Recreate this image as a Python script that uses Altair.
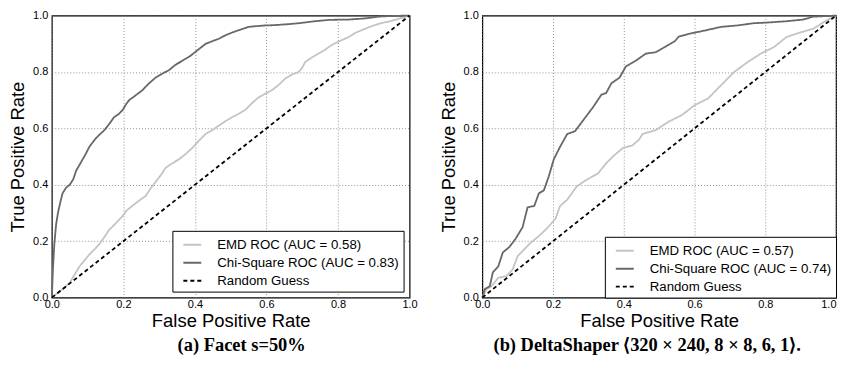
import altair as alt
import pandas as pd

series_names = ["EMD ROC", "Chi-Square ROC", "Random Guess"]

# Panel (a) Facet
a_chi_fpr = [0, 0.003, 0.007, 0.012, 0.017, 0.024, 0.03, 0.04, 0.05, 0.06, 0.068, 0.077, 0.086, 0.095,
             0.105, 0.114, 0.123, 0.135, 0.147, 0.16, 0.174, 0.186, 0.198, 0.207, 0.216, 0.235, 0.253,
             0.27, 0.29, 0.31, 0.327, 0.345, 0.365, 0.385, 0.40, 0.415, 0.43, 0.45, 0.467, 0.485, 0.504,
             0.527, 0.55, 0.575, 0.596, 0.62, 0.643, 0.665, 0.69, 0.71, 0.735, 0.76, 0.78, 0.83, 0.875,
             0.92, 0.96, 1.0]
a_chi_tpr = [0, 0.10, 0.19, 0.26, 0.30, 0.34, 0.37, 0.39, 0.40, 0.42, 0.45, 0.47, 0.49, 0.51,
             0.535, 0.55, 0.565, 0.58, 0.594, 0.615, 0.64, 0.65, 0.665, 0.685, 0.70, 0.718, 0.735,
             0.758, 0.78, 0.795, 0.806, 0.825, 0.84, 0.855, 0.87, 0.885, 0.90, 0.91, 0.918, 0.93, 0.94,
             0.95, 0.96, 0.963, 0.965, 0.966, 0.968, 0.97, 0.973, 0.976, 0.98, 0.983, 0.985, 0.986, 0.99,
             0.997, 0.999, 1.0]
a_emd_fpr = [0, 0.02, 0.035, 0.05, 0.063, 0.077, 0.09, 0.105, 0.12, 0.133, 0.147, 0.16, 0.18, 0.198,
             0.21, 0.225, 0.245, 0.262, 0.275, 0.29, 0.305, 0.318, 0.335, 0.355, 0.375, 0.392, 0.41,
             0.43, 0.45, 0.467, 0.485, 0.504, 0.52, 0.54, 0.56, 0.578, 0.6, 0.615, 0.635, 0.652, 0.67,
             0.69, 0.70, 0.708, 0.725, 0.745, 0.765, 0.78, 0.805, 0.83, 0.85, 0.875, 0.9, 0.92, 0.945,
             0.968, 1.0]
a_emd_tpr = [0, 0.02, 0.035, 0.053, 0.08, 0.11, 0.13, 0.153, 0.172, 0.19, 0.215, 0.24, 0.265, 0.29,
             0.31, 0.325, 0.345, 0.36, 0.385, 0.41, 0.435, 0.46, 0.475, 0.49, 0.51, 0.53, 0.555,
             0.58, 0.595, 0.61, 0.625, 0.64, 0.65, 0.665, 0.69, 0.71, 0.725, 0.735, 0.755, 0.776, 0.79,
             0.80, 0.815, 0.835, 0.85, 0.865, 0.88, 0.894, 0.91, 0.924, 0.94, 0.953, 0.965, 0.973, 0.98,
             0.988, 1.0]

# Panel (b) DeltaShaper
b_chi_fpr = [0, 0.007, 0.021, 0.03, 0.045, 0.058, 0.077, 0.095, 0.114, 0.128, 0.147, 0.16, 0.174,
             0.188, 0.202, 0.22, 0.24, 0.262, 0.286, 0.313, 0.337, 0.35, 0.365, 0.388, 0.406, 0.434,
             0.462, 0.49, 0.518, 0.545, 0.555, 0.583, 0.629, 0.675, 0.72, 0.768, 0.814, 0.86, 0.907,
             0.935, 1.0]
b_chi_tpr = [0, 0.03, 0.04, 0.09, 0.11, 0.16, 0.18, 0.21, 0.25, 0.32, 0.325, 0.37, 0.38,
             0.43, 0.49, 0.535, 0.58, 0.59, 0.63, 0.675, 0.72, 0.725, 0.76, 0.78, 0.82, 0.84,
             0.865, 0.87, 0.89, 0.91, 0.925, 0.935, 0.947, 0.96, 0.965, 0.973, 0.976, 0.98, 0.986,
             0.996, 1.0]
b_emd_fpr = [0, 0.012, 0.026, 0.045, 0.068, 0.086, 0.10, 0.114, 0.137, 0.16, 0.184, 0.207, 0.22,
             0.24, 0.267, 0.295, 0.327, 0.35, 0.374, 0.397, 0.425, 0.443, 0.453, 0.49, 0.527, 0.564,
             0.60, 0.638, 0.675, 0.712, 0.75, 0.787, 0.824, 0.86, 0.898, 0.935, 0.972, 1.0]
b_emd_tpr = [0, 0.03, 0.04, 0.07, 0.076, 0.10, 0.147, 0.165, 0.195, 0.218, 0.247, 0.28, 0.325,
             0.347, 0.394, 0.418, 0.44, 0.476, 0.506, 0.53, 0.54, 0.56, 0.58, 0.594, 0.624, 0.647,
             0.682, 0.706, 0.753, 0.80, 0.835, 0.865, 0.888, 0.924, 0.94, 0.953, 0.982, 1.0]

guess_fpr = [0, 1]
guess_tpr = [0, 1]

a_labels = ["EMD ROC (AUC = 0.58)", "Chi-Square ROC (AUC = 0.83)", "Random Guess"]
b_labels = ["EMD ROC (AUC = 0.57)", "Chi-Square ROC (AUC = 0.74)", "Random Guess"]

caption_a = "(a) Facet s=50%"
caption_b = "(b) DeltaShaper \u27e8320 \u00d7 240, 8 \u00d7 8, 6, 1\u27e9."

ticks = [0, 0.2, 0.4, 0.6, 0.8, 1.0]
colors = ["#c4c4c4", "#686868", "#000000"]
dashes = [[1, 0], [1, 0], [4, 3]]


def build_df(labels, emd_f, emd_t, chi_f, chi_t):
    rows = []
    for lab, fs, ts in zip(labels, [emd_f, chi_f, guess_fpr], [emd_t, chi_t, guess_tpr]):
        for i, (f, t) in enumerate(zip(fs, ts)):
            rows.append({"series": lab, "fpr": f, "tpr": t, "i": i})
    return pd.DataFrame(rows)


def panel(labels, emd_f, emd_t, chi_f, chi_t, caption, dx, legend_offset, width, flush_end):
    df = build_df(labels, emd_f, emd_t, chi_f, chi_t)
    leg = alt.Legend(title=None, orient="bottom-right", offset=legend_offset,
                     strokeColor="black", fillColor="white", padding=4,
                     symbolType="stroke", symbolSize=324, symbolStrokeWidth=2, symbolOffset=6,
                     labelFont="Liberation Sans", labelFontSize=13.3, labelColor="black",
                     labelOffset=15, rowPadding=1, labelLimit=400)
    xaxis_kw = dict(title="False Positive Rate", values=ticks, format=".1f", labelPadding=1)
    if flush_end:
        xaxis_kw["labelAlign"] = alt.expr("datum.value >= 1 ? 'right' : 'center'")
    return alt.Chart(df).mark_line(strokeWidth=1.8).encode(
        x=alt.X("fpr:Q", scale=alt.Scale(domain=[0, 1], nice=False), axis=alt.Axis(**xaxis_kw)),
        y=alt.Y("tpr:Q", scale=alt.Scale(domain=[0, 1], nice=False),
                axis=alt.Axis(title="True Positive Rate", values=ticks, format=".1f",
                              labelPadding=4, titlePadding=5)),
        color=alt.Color("series:N", scale=alt.Scale(domain=labels, range=colors), legend=leg),
        strokeDash=alt.StrokeDash("series:N", scale=alt.Scale(domain=labels, range=dashes), legend=leg),
        order=alt.Order("i:Q"),
    ).properties(
        width=width, height=283,
        title=alt.TitleParams(caption, orient="bottom", anchor="middle", dx=dx, offset=6,
                              font="Liberation Serif", fontSize=18.5, fontWeight="bold", color="black"),
    )


left = panel(a_labels, a_emd_fpr, a_emd_tpr, a_chi_fpr, a_chi_tpr, caption_a, 11, 6, 359, False)
right = panel(b_labels, b_emd_fpr, b_emd_tpr, b_chi_fpr, b_chi_tpr, caption_b, -12, 0, 355, True)

chart = alt.hconcat(left, right, spacing=20).resolve_scale(
    color="independent", strokeDash="independent"
).properties(
    padding={"left": 0, "top": 0, "right": 0, "bottom": 0}
).configure_view(
    stroke="black", strokeWidth=1.2
).configure_axis(
    grid=True, gridColor="#777777", gridDash=[1, 2], gridWidth=0.8,
    domain=False, ticks=False, labelFlush=False,
    labelFont="Liberation Sans", labelFontSize=11, labelColor="black",
    titleFont="Liberation Sans", titleFontSize=18.5, titleFontWeight="normal", titleColor="black",
    titlePadding=2,
)

chart.save("out.html", embed_options={"renderer": "svg", "actions": False})
